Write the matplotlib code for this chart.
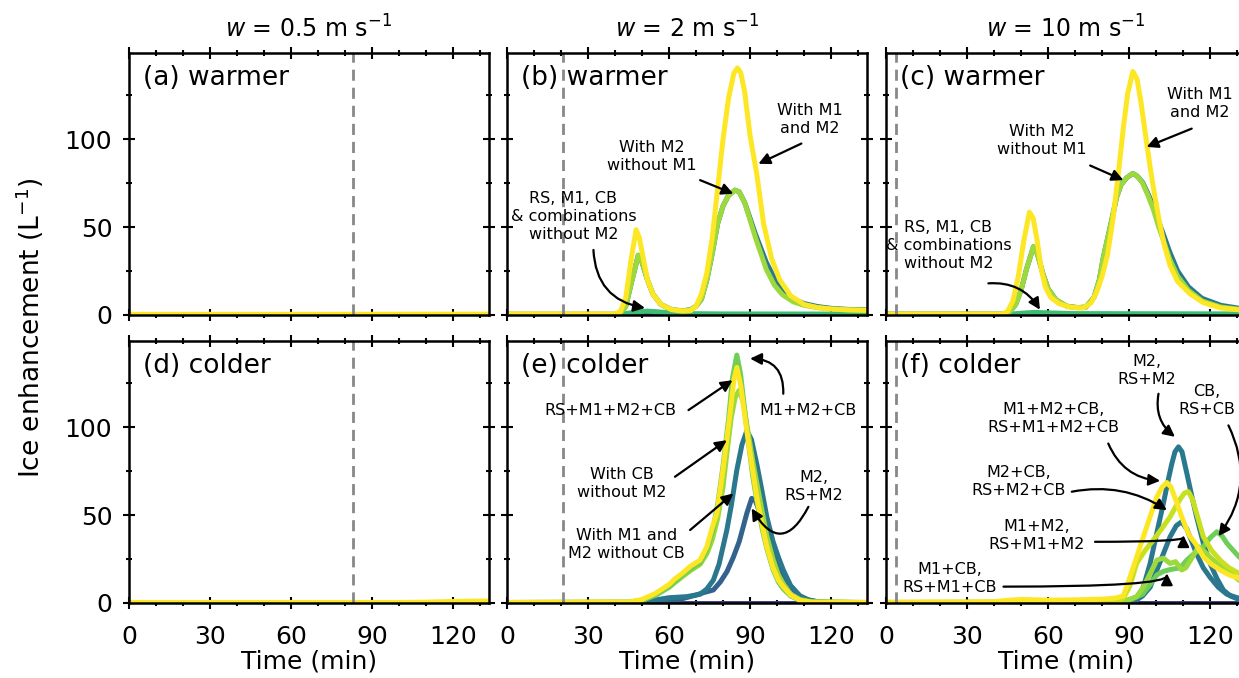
import matplotlib
matplotlib.use("Agg")
import matplotlib.pyplot as plt
from matplotlib.ticker import MultipleLocator

# ---- data ----
speeds = ['0.5', '2', '10']
panel_names = ['(a) warmer', '(b) warmer', '(c) warmer',
               '(d) colder', '(e) colder', '(f) colder']
onset = [83, 20.7, 3.7]   # dashed line per column (min)

# (a) / (d)  w = 0.5
a_t = [0, 60, 133.3]
a_all = [0.4, 0.4, 0.5]
d_t = [0, 100, 110, 118, 125, 133.3]
d_all = [0.3, 0.3, 0.5, 0.8, 1.0, 1.1]

# (b) warmer, w = 2
b_t_m1m2 = [0, 40, 42, 44, 46, 47.8, 49, 50.5, 52, 54, 57, 61, 65, 68, 70, 72, 74, 76, 78,
            80, 82, 84, 85.3, 86.5, 88, 90, 92.5, 95, 98, 101, 105, 110, 115, 120, 126, 133.3]
b_m1m2 = [0.5, 0.5, 2, 10, 32, 48.5, 44, 32, 20, 12, 6, 3, 2.2, 2.5, 5, 12, 24, 44, 72,
          100, 123, 137.5, 140.5, 138, 127, 102, 80, 52, 32, 20, 11, 6, 4.2, 3.4, 2.9, 2.6]
b_t_m2 = [0, 40, 42, 44, 46, 48.6, 50, 52, 54, 57, 61, 65, 68, 70, 72, 74, 76, 78, 80, 82,
          84.4, 86, 88, 90, 92, 94, 96, 99, 102, 106, 110, 115, 120, 126, 133.3]
b_m2 = [0.4, 0.4, 1, 5, 18, 34, 30, 20, 12, 6, 3, 2.4, 3, 5, 9, 20, 35, 52, 62, 68,
        71, 70, 64, 54, 44, 35, 26, 17, 11.5, 7.5, 5.5, 4.2, 3.5, 3, 2.7]
b_m2_tail = [0.4, 0.4, 1, 5, 18, 34, 30, 20, 12, 6, 3, 2.4, 3, 5, 9, 20, 35, 52, 62, 68,
             71, 70, 64, 55, 46, 38, 30, 21, 14, 9, 6.5, 4.8, 3.8, 3.2, 2.9]
b_t_other = [0, 40, 44, 48, 52, 56, 60, 66, 80, 133.3]
b_other = [0.3, 0.3, 0.8, 1.8, 2.2, 1.8, 1.2, 0.8, 0.6, 0.5]

# (c) warmer, w = 10
c_t_m1m2 = [0, 43, 45, 47, 49, 51, 53.1, 54.5, 56, 57.5, 59, 61, 64, 68, 73, 76, 78, 80, 82,
            84, 86, 88, 89.5, 91.4, 93, 94.5, 96.5, 98, 99.5, 101, 103, 105.2, 108, 112.6,
            117.5, 124, 133.3]
c_m1m2 = [0.5, 0.5, 2, 8, 22, 42, 58.5, 55, 42, 26, 16, 10, 6.5, 4.5, 3.9, 7, 13, 22, 34,
          54, 80, 108, 126, 138.5, 134, 120, 98, 82, 68, 55, 40, 28, 19, 12,
          7, 4, 2.5]
c_t_m2 = [0, 44, 46, 48, 50, 52, 54.6, 56, 58, 60, 63, 67, 71, 74, 77, 79, 80.5, 83, 85.4,
          87, 89.1, 91.4, 93, 95, 97, 99, 101, 102.7, 105, 108, 112, 117, 124, 133.3]
c_m2 = [0.5, 0.5, 2, 6, 14, 26, 38.8, 35, 24, 15, 8.5, 5, 4.2, 4.5, 10, 20, 33, 50, 67,
        74, 78, 80.5, 79, 75, 68, 60, 50, 42.6, 32, 22, 14, 8, 4.5, 2.8]
c_m2_tail = [0.5, 0.5, 2, 6, 14, 26, 38.8, 35, 24, 15, 8.5, 5, 4.2, 4.5, 10, 20, 33, 50, 67,
             74, 78, 80.5, 79, 75.5, 69, 62, 53, 46, 36, 25, 16, 9.5, 5.5, 3.2]
c_t_other = [0, 45, 50, 55, 60, 70, 133.3]
c_other = [0.3, 0.3, 1, 1.5, 1.2, 0.8, 0.6]

# (e) colder, w = 2
e_t_top = [0, 45, 50, 55, 60, 62, 65, 68, 71.5, 74, 76, 78, 80, 82, 83.5, 85.1, 86.5, 88,
           89.5, 91, 92.5, 94.5, 96.2, 98.5, 100.5, 102.3, 105, 108.5, 113, 133.3]
e_m1m2cb = [0.3, 0.5, 1.5, 4.5, 9, 12, 16, 19.5, 23, 30, 40, 56, 78, 104, 128, 141, 130, 110,
            90, 72, 58, 42, 31, 19, 12, 8, 4, 1.5, 0.5, 0.3]
e_t_all = [0, 45, 50, 55, 60, 62, 65, 68, 71.5, 74, 76, 77.7, 80, 82.6, 84, 85.1, 86.5, 88.8,
           90.5, 92.5, 94.5, 96.2, 98.5, 100.5, 102.3, 105, 108.5, 113, 133.3]
e_all = [0.3, 0.5, 2, 5.5, 10.5, 13.5, 17, 21, 24.4, 32, 43, 51, 76, 108, 127, 134, 124, 98,
         80, 60, 44, 32, 20, 13, 9.3, 4.5, 1.5, 0.5, 0.3]
e_t_cb = [0, 45, 50, 55, 60, 65, 68, 71.5, 74, 76, 78, 80, 81.4, 83, 84.5, 86, 87.5, 89.5,
          91.2, 93.5, 96.2, 98.5, 100.5, 102.3, 105, 108.5, 113, 133.3]
e_cb = [0.3, 0.5, 1.5, 4.5, 9, 15, 18.5, 22, 28, 36, 48, 66, 85, 105, 117, 121, 114, 95,
        79, 60, 38, 25, 16, 11, 5, 2, 0.6, 0.3]
e_t_m1m2 = [0, 50, 52.5, 56, 60, 66.5, 71.5, 74, 76.4, 78.5, 81.4, 83, 85.1, 87, 88.8, 90.5,
            92.5, 94.5, 96.2, 98.5, 100.5, 102.3, 105, 108.5, 111, 114.6, 120, 133.3]
e_m1m2 = [0, 0.3, 1, 2, 3, 3.6, 5, 8, 13, 22, 41.5, 55, 75.6, 90, 98, 93,
          79, 63, 49, 35, 26, 18.8, 10, 4, 2, 0.8, 0.3, 0.2]
e_t_m2 = [0, 55, 60, 65, 70, 73, 76.4, 79, 81.5, 83.8, 86, 88.8, 90.6, 92, 94, 96.2, 98.5,
          100.5, 102.3, 105, 108.5, 112, 116, 133.3]
e_m2 = [0, 0.2, 1, 2.5, 4.5, 6, 7.4, 12, 18, 26, 35, 51, 59.5, 58, 50, 40, 30,
        22, 15, 9, 4, 1.5, 0.5, 0.2]

# (f) colder, w = 10
f_t_m1m2cb = [0, 30, 40, 45, 50, 55, 60, 70, 80, 85, 87.9, 90.4, 92.8, 95.3, 98, 100.3, 102.3,
              104, 105.5, 107.7, 109.5, 111.4, 112.5, 114.5, 117.5, 120.5, 123.7, 127, 130.7,
              133.3]
f_m1m2cb = [0.4, 0.5, 0.8, 1.5, 2, 1.8, 1.6, 1.8, 2.2, 2.8, 4, 15, 26, 37.7, 50, 60.4, 66,
            68.5, 66, 57, 49, 41.5, 38, 34, 26.3, 22, 18.8, 16, 14, 13]
f_t_m2cb = [0, 85, 88, 90.4, 92.8, 96, 99, 102, 105.2, 107, 108.9, 110.5, 112, 113.5, 115,
            117.5, 120.5, 123.7, 127, 130.7, 133.3]
f_m2cb = [0.3, 0.5, 3, 10, 22.5, 30, 35.8, 42, 49, 54, 59, 62.5, 63.3, 59, 51,
          37.7, 30, 24.4, 20, 16.9, 15.5]
f_t_m2 = [0, 85, 90, 92.8, 95.3, 97.8, 100.3, 102.7, 104.5, 105.8, 107, 108.3, 109.6, 111.4,
          113.2, 115, 117.5, 120, 122.5, 124.9, 127.5, 130.7, 133.3]
f_m2 = [0, 0, 0.5, 2, 9, 22.5, 40, 56.6, 70, 79, 86, 88.8, 86, 73.7,
        61, 49, 34, 22.5, 14, 7.4, 4, 2, 1.5]
f_t_m1m2 = [0, 88, 92, 95, 97.8, 100.3, 102.7, 105.2, 107.5, 109.5, 111.4, 113.2, 115, 117.5,
            120, 123, 126.2, 130, 133.3]
f_m1m2 = [0, 0, 1, 4, 9, 18.8, 28, 37.7, 44, 46.2, 42, 35, 28, 20,
          14.6, 9, 5, 3, 2.5]
f_t_m1cb = [0, 85, 90, 92.8, 95.3, 97.8, 100.3, 102.7, 105.2, 107.2, 109.5, 111, 112, 113.8,
            115.7, 117.5, 120, 123, 126, 130.7, 133.3]
f_m1cb = [0.3, 0.5, 2, 3.6, 9, 16.7, 24.4, 25.5, 22.5, 23.5, 18.8, 20, 22.5, 27,
          32, 30, 26, 22, 18.8, 13, 11]
f_t_cb = [0, 85, 90, 95, 98, 100.3, 102.7, 105.2, 108.9, 111.4, 114, 117.5, 120, 122.5, 124.5,
          126.2, 128.5, 130.7, 133.3]
f_cb = [0.3, 0.5, 1.5, 5, 11, 16, 18, 19, 20, 24.4, 28, 32, 37, 40.5, 38,
        34, 30, 26.3, 23]

flat_t = [0, 133.3]
flat = [0, 0]

# colours
navy = '#414487'
blue = '#33638d'
teal = '#2a788e'
green = '#3dbc74'
mgreen = '#6ece58'
lgreen = '#9bd93c'
ygreen = '#c8e020'
yellow = '#fde725'

# ---- figure ----
fig = plt.figure(figsize=(12.39, 6.78), dpi=100)
W, H = 1239, 678
lefts = [129, 507, 886]
bottoms = [315, 603]
aw, ah = 360, 262

axes = []
for r in range(2):
    for c in range(3):
        ax = fig.add_axes([lefts[c] / W, 1 - bottoms[r] / H, aw / W, ah / H])
        axes.append(ax)


def curve(ax, t, v, color):
    ax.plot(t, v, color=color, lw=3.6, solid_capstyle='round', solid_joinstyle='round')


def arrow(ax, start, end, rad=0.0, style=None):
    cs = style if style else f'arc3,rad={rad}'
    ax.annotate('', xy=end, xytext=start,
                arrowprops=dict(arrowstyle='-|>', color='k', lw=1.6,
                                mutation_scale=17, shrinkA=0, shrinkB=0,
                                connectionstyle=cs))


def note(ax, x, y, s):
    ax.text(x, y, s, ha='center', va='center', fontsize=11.5, linespacing=1.25)


ax_a, ax_b, ax_c, ax_d, ax_e, ax_f = axes

# (a), (d)
for ax in (ax_a, ax_d):
    curve(ax, flat_t, flat, navy)
curve(ax_a, a_t, a_all, yellow)
curve(ax_d, d_t, d_all, yellow)

# (b)
curve(ax_b, flat_t, flat, navy)
curve(ax_b, b_t_other, b_other, green)
curve(ax_b, b_t_m2, b_m2_tail, teal)
curve(ax_b, b_t_m2, b_m2, lgreen)
curve(ax_b, b_t_m1m2, b_m1m2, yellow)
note(ax_b, 112.2, 111, 'With M1\nand M2')
arrow(ax_b, (109, 97.5), (93.1, 86))
note(ax_b, 53.6, 90, 'With M2\nwithout M1')
arrow(ax_b, (71.5, 76.7), (83.8, 69))
note(ax_b, 24.6, 56, 'RS, M1, CB\n& combinations\nwithout M2')
arrow(ax_b, (32, 37), (51.1, 4), rad=0.4)

# (c)
curve(ax_c, flat_t, flat, navy)
curve(ax_c, c_t_other, c_other, green)
curve(ax_c, c_t_m2, c_m2_tail, teal)
curve(ax_c, c_t_m2, c_m2, lgreen)
curve(ax_c, c_t_m1m2, c_m1m2, yellow)
note(ax_c, 116.3, 120.3, 'With M1\nand M2')
arrow(ax_c, (113.2, 106), (96.5, 95.6))
note(ax_c, 57.7, 99.4, 'With M2\nwithout M1')
arrow(ax_c, (75.6, 85), (87.9, 76.7))
note(ax_c, 23.1, 39.8, 'RS, M1, CB\n& combinations\nwithout M2')
arrow(ax_c, (37.9, 18), (57, 3), rad=-0.3)

# (e)
curve(ax_e, flat_t, flat, navy)
curve(ax_e, e_t_m2, e_m2, blue)
curve(ax_e, e_t_m1m2, e_m1m2, teal)
curve(ax_e, e_t_cb, e_cb, lgreen)
curve(ax_e, e_t_top, e_m1m2cb, mgreen)
curve(ax_e, e_t_all, e_all, yellow)
note(ax_e, 38.1, 109.7, 'RS+M1+M2+CB')
arrow(ax_e, (67.2, 109.7), (83.5, 126.7))
note(ax_e, 111.6, 109.7, 'M1+M2+CB')
arrow(ax_e, (102.3, 119), (90, 139), rad=0.5)
note(ax_e, 42.5, 68, 'With CB\nwithout M2')
arrow(ax_e, (62.2, 71.8), (81.4, 92.6))
note(ax_e, 44.3, 33, 'With M1 and\nM2 without CB')
arrow(ax_e, (67.8, 41.5), (83.8, 62.3))
note(ax_e, 113.5, 66, 'M2,\nRS+M2')
arrow(ax_e, (111.6, 54.7), (90.6, 53.8), rad=-0.9)

# (f)
curve(ax_f, flat_t, flat, navy)
curve(ax_f, f_t_m1m2, f_m1m2, teal)
curve(ax_f, f_t_m2, f_m2, teal)
curve(ax_f, f_t_cb, f_cb, mgreen)
curve(ax_f, f_t_m1cb, f_m1cb, lgreen)
curve(ax_f, f_t_m2cb, f_m2cb, ygreen)
curve(ax_f, f_t_m1m2cb, f_m1m2cb, yellow)
note(ax_f, 96.5, 132.4, 'M2,\nRS+M2')
arrow(ax_f, (100.9, 119), (107, 94.5), rad=0.3)
note(ax_f, 118.8, 115.3, 'CB,\nRS+CB')
arrow(ax_f, (126.8, 101), (123.1, 38), rad=-0.3)
note(ax_f, 62, 105, 'M1+M2+CB,\nRS+M1+M2+CB')
arrow(ax_f, (82.3, 90.7), (101.5, 69.5), rad=0.3)
note(ax_f, 49, 69, 'M2+CB,\nRS+M2+CB')
arrow(ax_f, (68.8, 63.3), (104, 52.8), rad=-0.2)
note(ax_f, 55.8, 38.6, 'M1+M2,\nRS+M1+M2')
arrow(ax_f, (77.4, 34.8), (110.1, 38.6), style='angle3,angleA=0,angleB=90')
note(ax_f, 23.7, 14, 'M1+CB,\nRS+M1+CB')
arrow(ax_f, (43.5, 9.3), (104, 16.9), style='angle3,angleA=0,angleB=90')

# ---- styling ----
for i, ax in enumerate(axes):
    r, c = divmod(i, 3)
    ax.axvline(onset[c], color='#888888', lw=2, ls=(0, (4, 2.5)))
    ax.set_xlim(0, 133.3)
    ax.set_ylim(0, 149)
    ax.xaxis.set_major_locator(MultipleLocator(30))
    ax.xaxis.set_minor_locator(MultipleLocator(10))
    ax.yaxis.set_major_locator(MultipleLocator(50))
    ax.yaxis.set_minor_locator(MultipleLocator(25))
    ax.tick_params(which='both', direction='inout', top=True, right=True,
                   labelsize=18, width=1.5, color='k')
    ax.tick_params(which='major', length=8)
    ax.tick_params(axis='y', which='major', pad=8)
    ax.tick_params(axis='x', which='major', pad=12)
    ax.tick_params(which='minor', length=5)
    for sp in ax.spines.values():
        sp.set_linewidth(1.8)
    if r == 0:
        ax.tick_params(labelbottom=False)
        ax.set_title(r'$w$ = ' + speeds[c] + r' m s$^{-1}$', fontsize=17, pad=11)
    else:
        ax.set_xlabel('Time (min)', fontsize=18, labelpad=0)
    if c > 0:
        ax.tick_params(labelleft=False)
    ax.text(0.04, 0.905, panel_names[i], transform=ax.transAxes,
            ha='left', va='center', fontsize=19)

fig.text(30 / W, 1 - 328 / H, r'Ice enhancement (L$^{-1}$)', rotation=90,
         ha='center', va='center', fontsize=19)

fig.savefig('out.png', dpi=100)
